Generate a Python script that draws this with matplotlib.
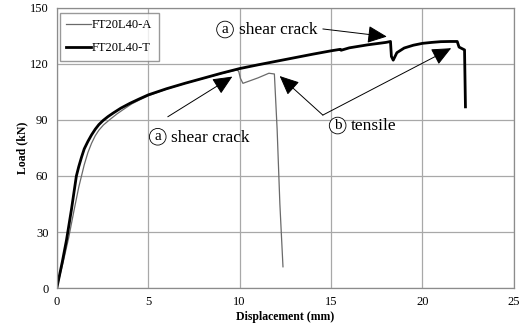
import numpy as np
import matplotlib.pyplot as plt

plt.rcParams['font.family'] = ['Liberation Serif', 'DejaVu Serif']

# FT20L40-A (thin grey curve)
disp_a = [0, 0.35, 0.65, 0.95, 1.2, 1.35, 1.5, 1.7, 1.9, 2.1, 2.3, 2.55, 2.9, 3.3, 3.7, 4.1, 4.5,
          5, 6, 7, 8, 9, 9.85, 9.95, 10.04, 10.18, 11.0, 11.6, 11.9, 12.05, 12.2, 12.37]
load_a = [0, 14, 27, 42, 54, 60, 66, 72.5, 77.5, 81.5, 84.5, 87.3, 90.2, 93.3, 96, 98.6, 100.6,
          102.9, 106.5, 109.5, 112.2, 114.8, 116.8, 116.0, 112.3, 109.6, 112.5, 115, 114.6, 85, 45, 11.4]

# FT20L40-T (thick black curve)
disp_t = [0, 0.3, 0.53, 0.8, 1.07, 1.2, 1.35, 1.5, 1.7, 1.9, 2.1, 2.3, 2.53, 2.8, 3.1, 3.5, 4.0, 4.5,
          5, 6, 7, 8, 9, 10, 11, 12, 13, 14, 15, 15.5, 15.55, 16, 17, 18, 18.25,
          18.3, 18.4, 18.6, 19, 19.5, 20, 20.5, 21, 21.5, 21.9, 22.0, 22.2, 22.3, 22.35]
load_t = [0, 14, 25.7, 42, 60, 65, 70, 74.5, 78.5, 82, 85, 87.5, 89.7, 91.8, 93.8, 96.3, 98.9, 101.2,
          103.4, 106.7, 109.6, 112.3, 115, 117.5, 119.5, 121.4, 123.3, 125.2, 127, 127.8, 127.3, 128.6, 130.2, 131.5, 132,
          124, 122, 126, 128.5, 130, 131, 131.5, 131.9, 132, 132, 129, 128, 127.5, 97]

fig = plt.figure(figsize=(5.26, 3.27), dpi=100)
ax = fig.add_axes([0.108, 0.119, 0.869, 0.857])

ax.plot(disp_a, load_a, color='#6a6a6a', lw=0.9, label='FT20L40-A', solid_joinstyle='round')
ax.plot(disp_t, load_t, color='black', lw=2.0, label='FT20L40-T', solid_joinstyle='round')

ax.set_xlim(0, 25)
ax.set_ylim(0, 150)
ax.set_xticks(np.arange(0, 26, 5))
ax.set_yticks(np.arange(0, 151, 30))
ax.grid(True, color='#a8a8a8', lw=0.9)
ax.set_axisbelow(True)
for s in ax.spines.values():
    s.set_color('#8c8c8c')
    s.set_linewidth(0.9)
ax.tick_params(length=0, labelsize=9, pad=6)
ax.set_xlabel('Displacement (mm)', fontsize=8.5, fontweight='bold', labelpad=2)
ax.set_ylabel('Load (kN)', fontsize=8.5, fontweight='bold', labelpad=1)

leg = ax.legend(loc='upper left', bbox_to_anchor=(0.006, 0.982), borderaxespad=0,
                fancybox=False, edgecolor='#808080', fontsize=9, handlelength=2.0,
                handletextpad=0.1, labelspacing=0.9, borderpad=0.5)
leg.get_frame().set_linewidth(1.0)

circ = dict(boxstyle='circle,pad=0.12', fc='white', ec='black', lw=0.6)
arw = dict(arrowstyle='-|>,head_length=0.6,head_width=0.27', mutation_scale=20,
           color='black', lw=0.7, shrinkA=0, shrinkB=0)

# top shear crack
ax.text(9.2, 138.4, 'a', fontsize=11, ha='center', va='center', bbox=circ)
ax.text(9.95, 138.0, 'shear crack', fontsize=12.5, ha='left', va='center')
ax.annotate('', xy=(18.05, 134.6), xytext=(14.55, 138.7), arrowprops=arw)

# lower shear crack
ax.text(5.52, 81.0, 'a', fontsize=11, ha='center', va='center', bbox=circ)
ax.text(6.25, 80.6, 'shear crack', fontsize=12.5, ha='left', va='center')
ax.annotate('', xy=(9.6, 113.2), xytext=(6.07, 91.7), arrowprops=arw)

# tensile
ax.text(15.36, 87.0, 'b', fontsize=11, ha='center', va='center', bbox=circ)
ax.text(16.1, 86.6, 'tensile', fontsize=12.5, ha='left', va='center')
ax.annotate('', xy=(12.19, 113.5), xytext=(14.55, 92.6), arrowprops=arw)
ax.annotate('', xy=(21.57, 128.4), xytext=(14.55, 92.6), arrowprops=arw)

fig.savefig('out.png', dpi=100)
